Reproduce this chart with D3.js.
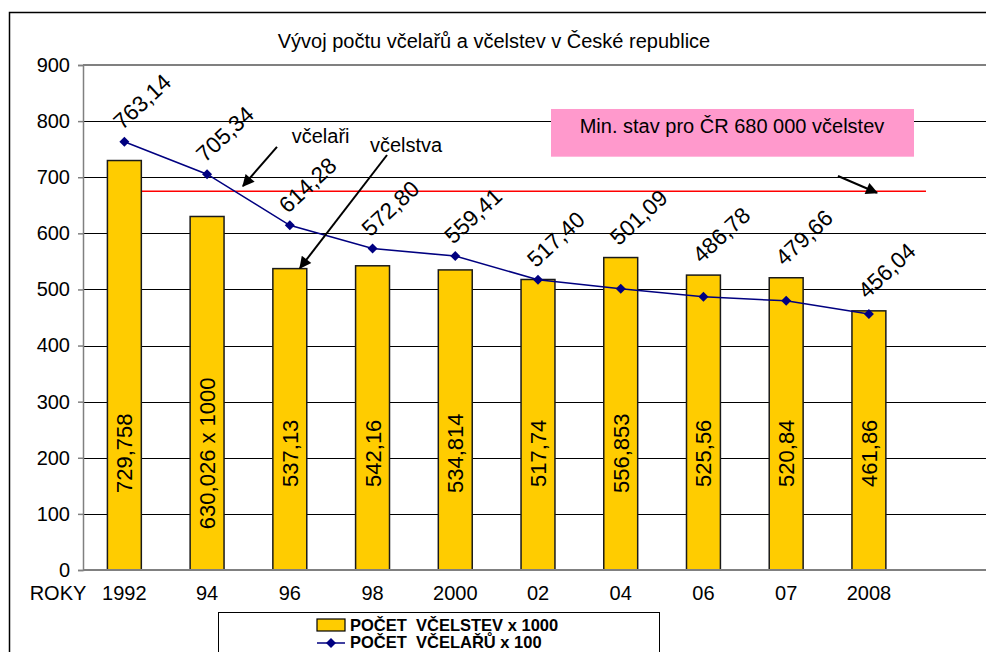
<!DOCTYPE html>
<html><head><meta charset="utf-8">
<script src="https://cdn.jsdelivr.net/npm/d3@7"></script>
<style>
html,body{margin:0;padding:0;background:#fff;}
svg{display:block;font-family:"Liberation Sans",Arial,sans-serif;}
</style></head>
<body>
<svg id="chart" width="986" height="652"></svg>
<script>
// ---- data ----
const categories = ["1992","94","96","98","2000","02","04","06","07","2008"];
const coloniesValues = [729.758,630.026,537.13,542.16,534.814,517.74,556.853,525.56,520.84,461.86];
const coloniesLabels = ["729,758","630,026 x 1000","537,13","542,16","534,814","517,74","556,853","525,56","520,84","461,86"];
const beekeepersValues = [763.14,705.34,614.28,572.80,559.41,517.40,501.09,486.78,479.66,456.04];
const beekeepersLabels = ["763,14","705,34","614,28","572,80","559,41","517,40","501,09","486,78","479,66","456,04"];
const yTicks = [0,100,200,300,400,500,600,700,800,900];
const minimumLevel = 675;
const titleText = "Vývoj počtu včelařů a včelstev v České republice";
const legendNames = ["POČET  VČELSTEV x 1000","POČET  VČELAŘŮ x 100"];

const svg = d3.select("#chart");

// frame
svg.append("rect").attr("x",9.5).attr("y",12.5).attr("width",1200).attr("height",800)
  .attr("fill","none").attr("stroke","#000").attr("stroke-width",1.5);

// scales
const x = d3.scaleBand().domain([...categories, ""]).range([83, 993]).padding(0);
const bw = x.bandwidth();
const xc = c => x(c) + bw/2;
const xi = f => x.range()[0] + f*bw;
const y = d3.scaleLinear().domain([0,900]).range([570,65]);

// title
svg.append("text").attr("x",494).attr("y",48).attr("text-anchor","middle")
  .attr("font-size",20).attr("fill","#000").text(titleText);

// gridlines
svg.append("g").selectAll("line").data(yTicks.filter(t=>t>0 && t<900)).join("line")
  .attr("x1",83).attr("x2",993).attr("y1",d=>Math.round(y(d))+0.5).attr("y2",d=>Math.round(y(d))+0.5)
  .attr("stroke","#000").attr("stroke-width",1);
// top border of plot
svg.append("line").attr("x1",83).attr("x2",993).attr("y1",y(900)).attr("y2",y(900))
  .attr("stroke","#808080").attr("stroke-width",2);

// y axis
const yAxis = d3.axisLeft(y).tickValues(yTicks).tickSize(5).tickPadding(8).tickFormat(d3.format("d"));
const gy = svg.append("g").attr("transform","translate(83,0)").call(yAxis);
gy.select(".domain").attr("stroke","#808080").attr("stroke-width",1.5);
gy.selectAll(".tick line").attr("stroke","#808080").attr("stroke-width",1.5);
gy.selectAll(".tick text").attr("font-size",20).attr("font-family","Liberation Sans, Arial, sans-serif").attr("fill","#000");

// red minimum line
svg.append("line").attr("x1",xi(0.47)).attr("x2",xi(10.19))
  .attr("y1",y(minimumLevel)).attr("y2",y(minimumLevel))
  .attr("stroke","#ff0000").attr("stroke-width",1.5);

// bars
const barW = bw*0.41;
svg.append("g").selectAll("rect").data(coloniesValues).join("rect")
  .attr("x",(d,i)=>xc(categories[i])-barW/2)
  .attr("y",d=>y(d))
  .attr("width",barW)
  .attr("height",d=>y(0)-y(d))
  .attr("fill","#FFCC00").attr("stroke","#1a1a1a").attr("stroke-width",1.5);

// x axis line
svg.append("line").attr("x1",83).attr("x2",993).attr("y1",y(0)).attr("y2",y(0))
  .attr("stroke","#808080").attr("stroke-width",2);

// bar labels (rotated)
svg.append("g").selectAll("text").data(coloniesLabels).join("text")
  .attr("transform",(d,i)=>`translate(${xc(categories[i])+8},${y(208)}) rotate(-90)`)
  .attr("text-anchor","middle").attr("font-size",22).attr("fill","#000").text(d=>d);

// line
const line = d3.line().x((d,i)=>xc(categories[i])).y(d=>y(d));
svg.append("path").datum(beekeepersValues).attr("d",line)
  .attr("fill","none").attr("stroke","#000080").attr("stroke-width",1.5);
const diamond = d3.symbol().type(d3.symbolSquare).size(50);
svg.append("g").selectAll("path").data(beekeepersValues).join("path")
  .attr("d",diamond)
  .attr("transform",(d,i)=>`translate(${xc(categories[i])},${y(d)}) rotate(45)`)
  .attr("fill","#000080");

// line labels
svg.append("g").selectAll("text").data(beekeepersLabels).join("text")
  .attr("transform",(d,i)=>{
    const top = Math.min(y(beekeepersValues[i]), y(coloniesValues[i]));
    return `translate(${xc(categories[i])-2},${top-11}) rotate(-43)`;
  })
  .attr("font-size",22.5).attr("fill","#000").text(d=>d);

// x labels
svg.append("g").selectAll("text").data(categories).join("text")
  .attr("x",d=>xc(d)).attr("y",600).attr("text-anchor","middle")
  .attr("font-size",20).attr("fill","#000").text(d=>d);
svg.append("text").attr("x",58).attr("y",600).attr("text-anchor","middle")
  .attr("font-size",20).attr("fill","#000").text("ROKY");

// arrow marker
const defs = svg.append("defs");
defs.append("marker").attr("id","arr").attr("viewBox","0 0 10 10").attr("refX",9).attr("refY",5)
  .attr("orient","auto-start-reverse")
  .attr("markerUnits","userSpaceOnUse").attr("markerWidth",14).attr("markerHeight",12)
  .append("path").attr("d","M0,0 L10,5 L0,10 z").attr("fill","#000");

function arrow(f1,v1,f2,v2){
  svg.append("line").attr("x1",xi(f1)).attr("y1",y(v1)).attr("x2",xi(f2)).attr("y2",y(v2))
    .attr("stroke","#000").attr("stroke-width",2).attr("marker-end","url(#arr)");
}
// annotations
svg.append("text").attr("x",xi(2.523)).attr("y",y(761)).attr("font-size",20).text("včelaři");
arrow(2.345,754,1.934,684.4);
svg.append("text").attr("x",xi(3.469)).attr("y",y(745)).attr("font-size",20).text("včelstva");
arrow(3.675,739.6,2.623,538.2);

// pink box
svg.append("rect").attr("x",xi(5.657)).attr("y",y(821.6)).attr("width",xi(10.045)-xi(5.657))
  .attr("height",y(736.6)-y(821.6)).attr("fill","#FF99CC");
svg.append("text").attr("x",xi(7.845)).attr("y",y(778.8)).attr("text-anchor","middle")
  .attr("font-size",20).text("Min. stav pro ČR 680 000 včelstev");
arrow(9.126,702.2,9.597,672.4);

// legend
const lg = svg.append("g");
lg.append("rect").attr("x",218.5).attr("y",612.5).attr("width",441).attr("height",80)
  .attr("fill","#fff").attr("stroke","#000").attr("stroke-width",1);
lg.append("rect").attr("x",317).attr("y",619).attr("width",28).attr("height",12)
  .attr("fill","#FFCC00").attr("stroke","#000").attr("stroke-width",1.2);
lg.append("text").attr("x",350).attr("y",631).attr("font-size",16.5).attr("font-weight","bold")
  .style("white-space","pre").text(legendNames[0]);
lg.append("line").attr("x1",317).attr("x2",345).attr("y1",643).attr("y2",643)
  .attr("stroke","#000080").attr("stroke-width",1.5);
lg.append("path").attr("d",diamond).attr("transform","translate(331,643) rotate(45)").attr("fill","#000080");
lg.append("text").attr("x",350).attr("y",647.5).attr("font-size",16.5).attr("font-weight","bold")
  .style("white-space","pre").text(legendNames[1]);
</script>
</body></html>
